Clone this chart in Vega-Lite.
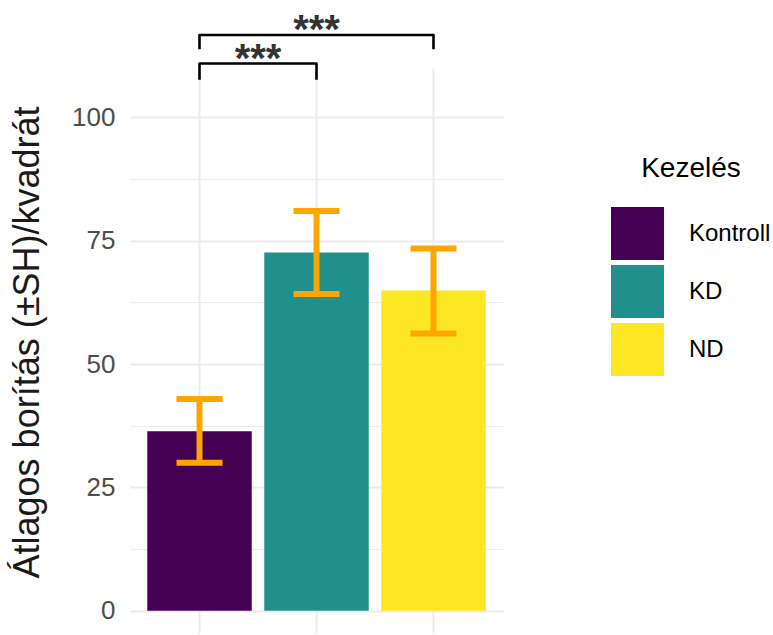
{
  "$schema": "https://vega.github.io/schema/vega-lite/v6.json",
  "autosize": "none",
  "width": 373,
  "height": 565,
  "padding": {"left": 130, "top": 68, "right": 270, "bottom": 2},
  "config": {
    "view": {"stroke": null},
    "font": "Liberation Sans"
  },
  "datasets": {
    "means": [
      {"Kezelés": "Kontroll", "mean": 36.4, "lo": 30.0, "hi": 42.9},
      {"Kezelés": "KD", "mean": 72.6, "lo": 64.2, "hi": 81.0},
      {"Kezelés": "ND", "mean": 64.9, "lo": 56.2, "hi": 73.4}
    ],
    "brackets": [
      {"pair": "Kontroll-KD", "step": 1, "pos": 1, "y": 107.6},
      {"pair": "Kontroll-KD", "step": 2, "pos": 1, "y": 110.9},
      {"pair": "Kontroll-KD", "step": 3, "pos": 2, "y": 110.9},
      {"pair": "Kontroll-KD", "step": 4, "pos": 2, "y": 107.6},
      {"pair": "Kontroll-ND", "step": 1, "pos": 1, "y": 113.8},
      {"pair": "Kontroll-ND", "step": 2, "pos": 1, "y": 116.7},
      {"pair": "Kontroll-ND", "step": 3, "pos": 3, "y": 116.7},
      {"pair": "Kontroll-ND", "step": 4, "pos": 3, "y": 113.8}
    ],
    "stars": [
      {"pair": "Kontroll-KD", "pos": 1.5, "y": 110.9, "label": "***"},
      {"pair": "Kontroll-ND", "pos": 2, "y": 116.7, "label": "***"}
    ]
  },
  "layer": [
    {
      "data": {"name": "means"},
      "encoding": {
        "x": {
          "field": "Kezelés",
          "type": "nominal",
          "sort": ["Kontroll", "KD", "ND"],
          "scale": {"paddingInner": 0.107, "paddingOuter": 0.1475},
          "axis": {
            "title": null,
            "labels": false,
            "ticks": false,
            "domain": false,
            "grid": true,
            "bandPosition": 0.5,
            "gridColor": "#ebebeb",
            "gridWidth": 2
          }
        }
      },
      "layer": [
        {
          "mark": {"type": "bar"},
          "encoding": {
            "y": {
              "field": "mean",
              "type": "quantitative",
              "title": "Átlagos borítás (±SH)/kvadrát",
              "scale": {"domain": [-4.5, 110], "nice": false, "zero": false},
              "axis": {
                "titleFontSize": 36,
                "titleFontWeight": "normal",
                "titleColor": "#1a1a1a",
                "titleAngle": -90,
                "titleBaseline": "alphabetic",
                "titleX": -92,
                "titleY": 274,
                "titleAnchor": "middle",
                "values": [0, 12.5, 25, 37.5, 50, 62.5, 75, 87.5, 100],
                "labelExpr": "datum.value % 25 === 0 ? datum.label : ''",
                "labelFontSize": 26,
                "labelColor": "#4d4d4d",
                "labelPadding": 15,
                "ticks": false,
                "domain": false,
                "gridColor": "#ebebeb",
                "gridWidth": {"condition": {"test": "datum.value % 25 === 0", "value": 2}, "value": 1.2}
              }
            },
            "color": {
              "field": "Kezelés",
              "type": "nominal",
              "sort": ["Kontroll", "KD", "ND"],
              "scale": {"domain": ["Kontroll", "KD", "ND"], "range": ["#440154", "#21908C", "#FDE725"]},
              "legend": {
                "title": "Kezelés",
                "orient": "none",
                "legendX": 481,
                "legendY": 87,
                "titleFontSize": 28,
                "titleFontWeight": "normal",
                "titleColor": "#000000",
                "titleAnchor": "middle",
                "titlePadding": 24,
                "symbolType": "square",
                "symbolSize": 2809,
                "symbolStrokeWidth": 0,
                "symbolOpacity": 1,
                "labelFontSize": 24,
                "labelColor": "#000000",
                "labelOffset": 25,
                "rowPadding": 5
              }
            }
          }
        },
        {
          "mark": {"type": "rule", "color": "#FFA500", "strokeWidth": 6},
          "encoding": {
            "y": {"field": "lo", "type": "quantitative", "title": "Átlagos borítás (±SH)/kvadrát"},
            "y2": {"field": "hi"}
          }
        },
        {
          "mark": {"type": "tick", "orient": "horizontal", "size": 46, "thickness": 6, "color": "#FFA500", "opacity": 1},
          "encoding": {
            "y": {"field": "lo", "type": "quantitative", "title": "Átlagos borítás (±SH)/kvadrát"}
          }
        },
        {
          "mark": {"type": "tick", "orient": "horizontal", "size": 46, "thickness": 6, "color": "#FFA500", "opacity": 1},
          "encoding": {
            "y": {"field": "hi", "type": "quantitative", "title": "Átlagos borítás (±SH)/kvadrát"}
          }
        }
      ]
    },
    {
      "data": {"name": "brackets"},
      "mark": {"type": "line", "color": "#000000", "strokeWidth": 2.6, "strokeJoin": "round"},
      "encoding": {
        "x": {"field": "pos", "type": "quantitative", "scale": {"domain": [0.406, 3.594], "nice": false, "zero": false}, "axis": null},
        "y": {"field": "y", "type": "quantitative", "title": "Átlagos borítás (±SH)/kvadrát"},
        "detail": {"field": "pair"},
        "order": {"field": "step"}
      }
    },
    {
      "data": {"name": "stars"},
      "mark": {"type": "text", "fontSize": 40, "fontWeight": "bold", "color": "#333333", "baseline": "alphabetic", "align": "center", "dy": 8},
      "encoding": {
        "x": {"field": "pos", "type": "quantitative", "scale": {"domain": [0.406, 3.594], "nice": false, "zero": false}, "axis": null},
        "y": {"field": "y", "type": "quantitative", "title": "Átlagos borítás (±SH)/kvadrát"},
        "text": {"field": "label"}
      }
    }
  ],
  "resolve": {"scale": {"x": "independent"}}
}
